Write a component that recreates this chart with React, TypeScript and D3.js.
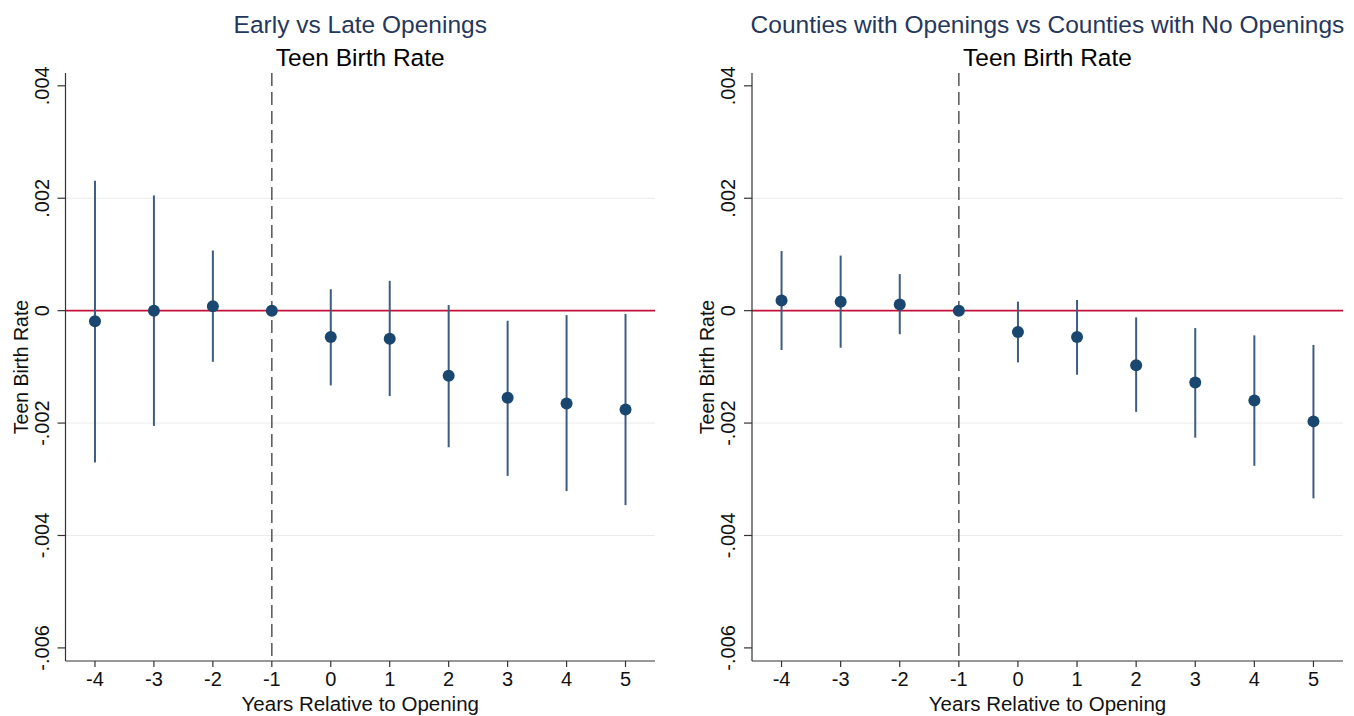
import React from 'react';
import * as d3 from 'd3';

// event-study estimates
const years = [-4, -3, -2, -1, 0, 1, 2, 3, 4, 5];
const yTicks = [0.004, 0.002, 0, -0.002, -0.004, -0.006];
const gridTicks = [0.002, -0.002, -0.004];

const earlyCoef = [-0.00019, 0, 0.00008, 0, -0.00047, -0.0005, -0.00116, -0.00155, -0.00165, -0.00176];
const earlyLo = [-0.0027, -0.00205, -0.00091, 0, -0.00133, -0.00152, -0.00243, -0.00294, -0.00321, -0.00346];
const earlyHi = [0.00231, 0.00205, 0.00107, 0, 0.00038, 0.00053, 0.0001, -0.00018, -0.00008, -0.00006];

const countyCoef = [0.00018, 0.00016, 0.00011, 0, -0.00038, -0.00047, -0.00097, -0.00128, -0.0016, -0.00197];
const countyLo = [-0.0007, -0.00066, -0.00042, 0, -0.00092, -0.00114, -0.0018, -0.00226, -0.00276, -0.00334];
const countyHi = [0.00106, 0.00098, 0.00065, 0, 0.00016, 0.00019, -0.00012, -0.00031, -0.00044, -0.00061];

const FONT = '"Liberation Sans", Arial, sans-serif';
const NAVY = '#1a476f';
const CI = '#3d5d7f';
const RED = '#c4103a';
const AXIS = '#333';

const fmt = (d: number) => (d === 0 ? '0' : d.toFixed(3).replace('0.', '.'));

type PanelProps = {
  left: number;
  right: number;
  title: string;
  coef: number[];
  lo: number[];
  hi: number[];
};

const Panel = ({ left, right, title, coef, lo, hi }: PanelProps) => {
  const top = 73;
  const bottom = 661;
  const x = d3.scaleLinear().domain([-4.5, 5.5]).range([left, right]);
  const y = d3.scaleLinear().domain([0.004228, -0.006233]).range([top, bottom]);
  const cx = (left + right) / 2;
  const cy = (top + bottom) / 2;

  return (
    <g fontFamily={FONT}>
      <text x={cx} y={33} textAnchor="middle" fontSize={24.5} fill="#26375c">{title}</text>
      <text x={cx} y={66} textAnchor="middle" fontSize={24.5} fill="#000">Teen Birth Rate</text>

      {/* gridlines */}
      {gridTicks.map(t => (
        <line key={t} x1={left} x2={right} y1={y(t)} y2={y(t)} stroke="#ebebeb" strokeWidth={1} />
      ))}

      {/* reference lines */}
      <line x1={x(-1)} x2={x(-1)} y1={top} y2={bottom} stroke="#555" strokeWidth={1.5} strokeDasharray="13,6" />
      <line x1={left} x2={right} y1={y(0)} y2={y(0)} stroke={RED} strokeWidth={1.6} />

      {/* confidence intervals */}
      {years.map((yr, i) =>
        lo[i] === hi[i] ? null : (
          <line key={'ci' + yr} x1={x(yr)} x2={x(yr)} y1={y(hi[i])} y2={y(lo[i])} stroke={CI} strokeWidth={2} />
        )
      )}
      {years.map((yr, i) => (
        <circle key={'pt' + yr} cx={x(yr)} cy={y(coef[i])} r={6} fill={NAVY} />
      ))}

      {/* axes */}
      <line x1={left} x2={left} y1={top} y2={bottom} stroke={AXIS} strokeWidth={1.2} />
      <line x1={left} x2={right} y1={bottom} y2={bottom} stroke={AXIS} strokeWidth={1.2} />

      {yTicks.map(t => (
        <g key={'yt' + t}>
          <line x1={left - 8} x2={left} y1={y(t)} y2={y(t)} stroke={AXIS} strokeWidth={1.2} />
          <text
            transform={`translate(${left - 17},${y(t)}) rotate(-90)`}
            textAnchor="middle"
            fontSize={20}
            fill="#111"
          >
            {fmt(t)}
          </text>
        </g>
      ))}
      {years.map(yr => (
        <g key={'xt' + yr}>
          <line x1={x(yr)} x2={x(yr)} y1={bottom} y2={bottom + 6} stroke={AXIS} strokeWidth={1.2} />
          <text x={x(yr)} y={bottom + 25} textAnchor="middle" fontSize={20} fill="#111">{yr}</text>
        </g>
      ))}

      <text x={cx} y={711} textAnchor="middle" fontSize={20.5} fill="#111">Years Relative to Opening</text>
      <text
        transform={`translate(${left - 38},${cy}) rotate(-90)`}
        textAnchor="middle"
        fontSize={19.5}
        fill="#111"
      >
        Teen Birth Rate
      </text>
    </g>
  );
};

const App = () => {
  return (
    <svg
      width={1354}
      height={716}
      style={{ position: 'absolute', left: 0, top: 0, background: '#fff' }}
    >
      <rect width={1354} height={716} fill="#fff" />
      <Panel left={65.5} right={655} title="Early vs Late Openings" coef={earlyCoef} lo={earlyLo} hi={earlyHi} />
      <Panel left={752} right={1343} title="Counties with Openings vs Counties with No Openings" coef={countyCoef} lo={countyLo} hi={countyHi} />
    </svg>
  );
};

export default App;
